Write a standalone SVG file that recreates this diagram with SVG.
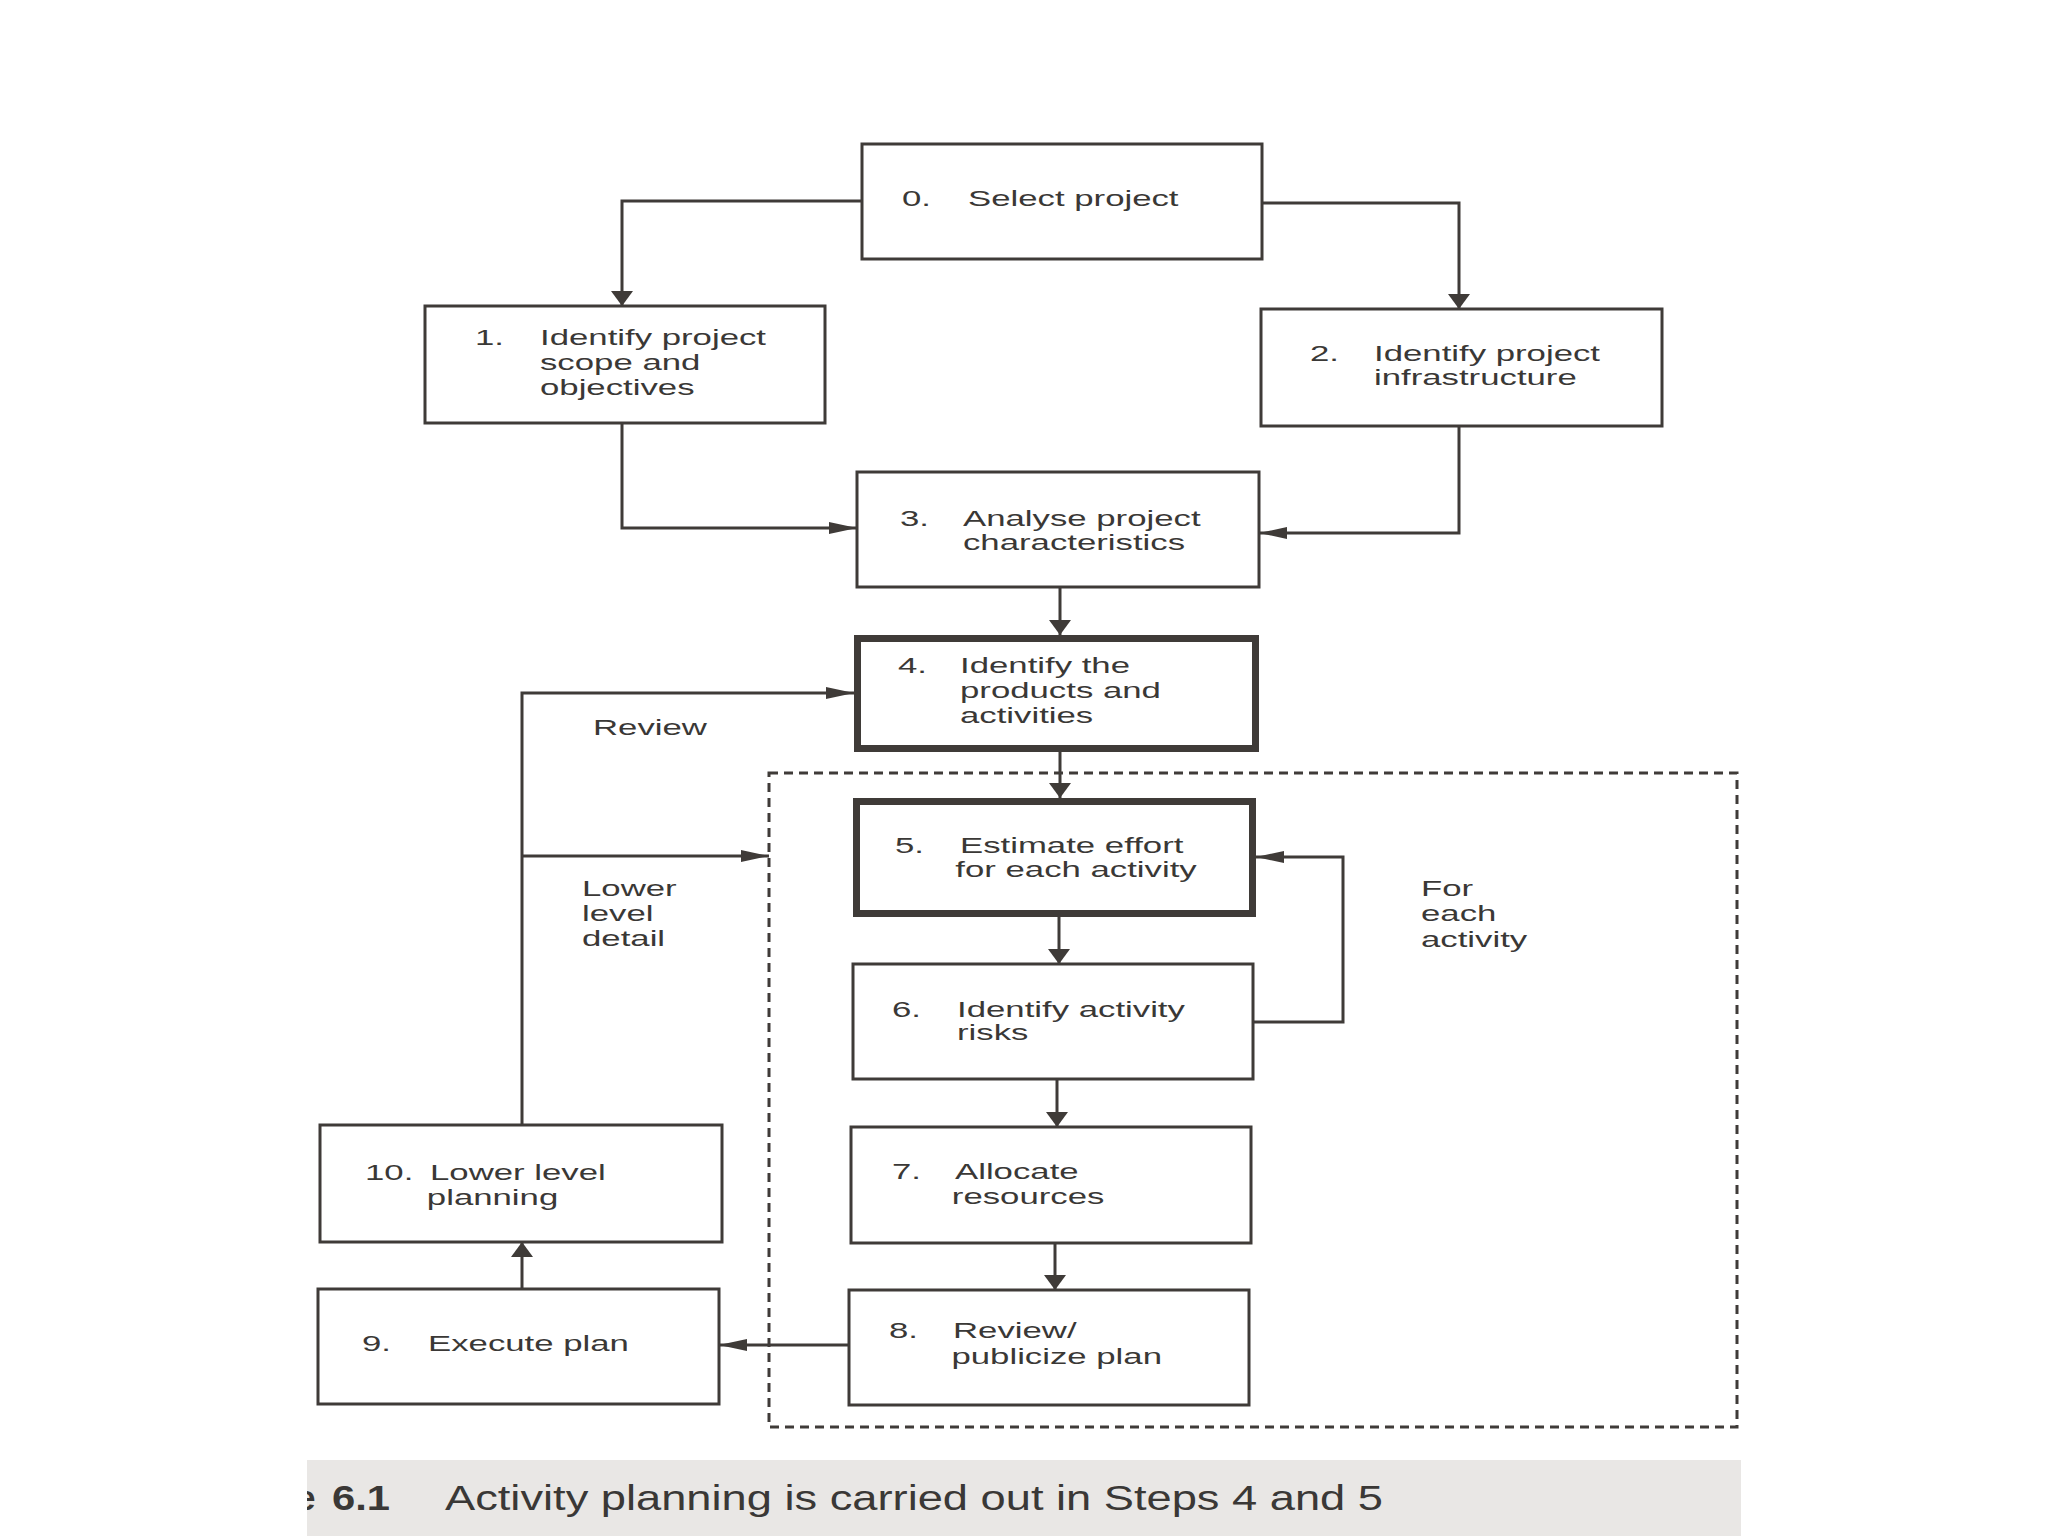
<svg xmlns="http://www.w3.org/2000/svg" width="2048" height="1536" viewBox="0 0 2048 1536">
<defs>
<style>
.box{fill:#ffffff;stroke:#3f3b38;stroke-width:3}
.thick{fill:#ffffff;stroke:#3f3b38;stroke-width:7}
.t{font-family:"Liberation Sans",Arial,sans-serif;font-size:22px;fill:#3a3836}
.cap{font-family:"Liberation Sans",Arial,sans-serif;font-size:35px;fill:#3a3836}
.ln{fill:none;stroke:#3f3b38;stroke-width:3}
.dash{fill:none;stroke:#3f3b38;stroke-width:3;stroke-dasharray:9 6}
</style>
<marker id="arrV" viewBox="0 0 15 22" refX="15" refY="11" markerWidth="15" markerHeight="22" markerUnits="userSpaceOnUse" orient="auto">
<path d="M0,0 L15,11 L0,22 z" fill="#3f3b38"/>
</marker>
<marker id="arrH" viewBox="0 0 28 12" refX="28" refY="6" markerWidth="28" markerHeight="12" markerUnits="userSpaceOnUse" orient="auto">
<path d="M0,0 L28,6 L0,12 z" fill="#3f3b38"/>
</marker>
<clipPath id="capclip"><rect x="307" y="1460" width="1434" height="76"/></clipPath>
</defs>
<rect x="0" y="0" width="2048" height="1536" fill="#ffffff"/>
<rect x="307" y="1460" width="1434" height="76" fill="#e9e7e5"/>

<rect class="dash" x="769" y="773" width="968" height="654"/>

<g id="connectors">
<path class="ln" d="M862,201 H622 V306" marker-end="url(#arrV)"/>
<path class="ln" d="M1262,203 H1459 V309" marker-end="url(#arrV)"/>
<path class="ln" d="M622,423 V528 H857" marker-end="url(#arrH)"/>
<path class="ln" d="M1459,426 V533 H1259" marker-end="url(#arrH)"/>
<path class="ln" d="M1060,587 V635" marker-end="url(#arrV)"/>
<path class="ln" d="M1060,752 V798" marker-end="url(#arrV)"/>
<path class="ln" d="M1059,917 V964" marker-end="url(#arrV)"/>
<path class="ln" d="M1057,1079 V1127" marker-end="url(#arrV)"/>
<path class="ln" d="M1055,1243 V1290" marker-end="url(#arrV)"/>
<path class="ln" d="M849,1345 H719" marker-end="url(#arrH)"/>
<path class="ln" d="M522,1289 V1242" marker-end="url(#arrV)"/>
<path class="ln" d="M522,1125 V693 H854" marker-end="url(#arrH)"/>
<path class="ln" d="M522,856 H769" marker-end="url(#arrH)"/>
<path class="ln" d="M1253,1022 H1343 V857 H1256" marker-end="url(#arrH)"/>
<text class="t" transform="translate(593,735) scale(1.58,1)">Review</text>
<text class="t" transform="translate(582,896) scale(1.58,1)"><tspan x="0" y="0">Lower</tspan><tspan x="0" y="25">level</tspan><tspan x="0" y="50">detail</tspan></text>
<text class="t" transform="translate(1421,896) scale(1.58,1)"><tspan x="0" y="0">For</tspan><tspan x="0" y="25">each</tspan><tspan x="0" y="51">activity</tspan></text>
</g>

<g id="node0">
<rect class="box" x="862" y="144" width="400" height="115"/>
<text class="t" transform="translate(902,206) scale(1.58,1)">0.</text>
<text class="t" transform="translate(968,206) scale(1.58,1)">Select project</text>
</g>
<g id="node1">
<rect class="box" x="425" y="306" width="400" height="117"/>
<text class="t" transform="translate(475,345) scale(1.58,1)">1.</text>
<text class="t" transform="translate(540,345) scale(1.58,1)"><tspan x="0" y="0">Identify project</tspan><tspan x="0" y="25">scope and</tspan><tspan x="0" y="50">objectives</tspan></text>
</g>
<g id="node2">
<rect class="box" x="1261" y="309" width="401" height="117"/>
<text class="t" transform="translate(1310,361) scale(1.58,1)">2.</text>
<text class="t" transform="translate(1374,361) scale(1.58,1)"><tspan x="0" y="0">Identify project</tspan><tspan x="0" y="24">infrastructure</tspan></text>
</g>
<g id="node3">
<rect class="box" x="857" y="472" width="402" height="115"/>
<text class="t" transform="translate(900,526) scale(1.58,1)">3.</text>
<text class="t" transform="translate(963,526) scale(1.58,1)"><tspan x="0" y="0">Analyse project</tspan><tspan x="0" y="24">characteristics</tspan></text>
</g>
<g id="node4">
<rect class="thick" x="857.5" y="638.5" width="398" height="110"/>
<text class="t" transform="translate(898,673) scale(1.58,1)">4.</text>
<text class="t" transform="translate(960,673) scale(1.58,1)"><tspan x="0" y="0">Identify the</tspan><tspan x="0" y="25">products and</tspan><tspan x="0" y="50">activities</tspan></text>
</g>
<g id="node5">
<rect class="thick" x="856.5" y="801.5" width="396" height="112"/>
<text class="t" transform="translate(895,853) scale(1.58,1)">5.</text>
<text class="t" transform="translate(960,853) scale(1.58,1)"><tspan x="0" y="0">Estimate effort</tspan><tspan x="-3" y="24">for each activity</tspan></text>
</g>
<g id="node6">
<rect class="box" x="853" y="964" width="400" height="115"/>
<text class="t" transform="translate(892,1017) scale(1.58,1)">6.</text>
<text class="t" transform="translate(957,1017) scale(1.58,1)"><tspan x="0" y="0">Identify activity</tspan><tspan x="0" y="23">risks</tspan></text>
</g>
<g id="node7">
<rect class="box" x="851" y="1127" width="400" height="116"/>
<text class="t" transform="translate(892,1179) scale(1.58,1)">7.</text>
<text class="t" transform="translate(955,1179) scale(1.58,1)"><tspan x="0" y="0">Allocate</tspan><tspan x="-2" y="25">resources</tspan></text>
</g>
<g id="node8">
<rect class="box" x="849" y="1290" width="400" height="115"/>
<text class="t" transform="translate(889,1338) scale(1.58,1)">8.</text>
<text class="t" transform="translate(953,1338) scale(1.58,1)"><tspan x="0" y="0">Review/</tspan><tspan x="-1" y="26">publicize plan</tspan></text>
</g>
<g id="node9">
<rect class="box" x="318" y="1289" width="401" height="115"/>
<text class="t" transform="translate(362,1351) scale(1.58,1)">9.</text>
<text class="t" transform="translate(428,1351) scale(1.58,1)">Execute plan</text>
</g>
<g id="node10">
<rect class="box" x="320" y="1125" width="402" height="117"/>
<text class="t" transform="translate(365,1180) scale(1.58,1)">10.</text>
<text class="t" transform="translate(430,1180) scale(1.58,1)"><tspan x="0" y="0">Lower level</tspan><tspan x="-2" y="25">planning</tspan></text>
</g>

<g id="caption" clip-path="url(#capclip)">
<text class="cap" x="296" y="1510" font-weight="bold">e</text>
<text class="cap" x="332" y="1510" font-weight="bold" textLength="58" lengthAdjust="spacingAndGlyphs">6.1</text>
<text class="cap" x="445" y="1510" textLength="938" lengthAdjust="spacingAndGlyphs">Activity planning is carried out in Steps 4 and 5</text>
</g>
</svg>
